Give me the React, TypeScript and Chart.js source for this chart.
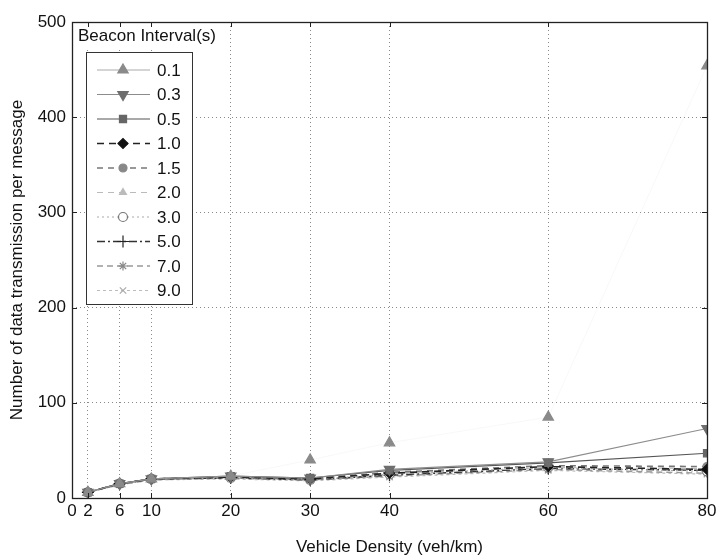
import React, { useEffect, useRef } from "react";
import { Chart, registerables } from "chart.js";
import { drawPoint } from "chart.js/helpers";

Chart.register(...registerables);

// ---- data ----
const densities = [2, 6, 10, 20, 30, 40, 60, 80];
const xTickValues = [0, 2, 6, 10, 20, 30, 40, 60, 80];
const yTickValues = [0, 100, 200, 300, 400, 500];
const intervals = ["0.1", "0.3", "0.5", "1.0", "1.5", "2.0", "3.0", "5.0", "7.0", "9.0"];

const bi01 = [6, 15, 20, 23, 40, 58, 85, 454];
const bi03 = [6, 15, 20, 23, 21, 30, 38, 73];
const bi05 = [6, 15, 20, 23, 21, 29, 37, 47];
const bi10 = [6, 15, 20, 22, 20, 26, 33, 30];
const bi15 = [6, 15, 20, 22, 20, 27, 34, 33];
const bi20 = [6, 15, 20, 22, 20, 26, 32, 31];
const bi30 = [6, 15, 20, 21, 19, 25, 32, 28];
const bi50 = [6, 15, 20, 21, 19, 24, 31, 29];
const bi70 = [6, 14, 19, 21, 19, 23, 30, 26];
const bi90 = [6, 14, 19, 20, 18, 22, 29, 25];

const seriesValues = [bi01, bi03, bi05, bi10, bi15, bi20, bi30, bi50, bi70, bi90];

// ---- styles ----
type Sty = {
  line: string;
  lw: number;
  dash: number[];
  pt: string;
  rot: number;
  r: number;
  fill: string;
  stroke: string;
};
const styles: Sty[] = [
  { line: "rgba(200,200,200,0.12)", lw: 1, dash: [], pt: "triangle", rot: 0, r: 6, fill: "#8a8a8a", stroke: "#8a8a8a" },
  { line: "#8c8c8c", lw: 1.2, dash: [], pt: "triangle", rot: 180, r: 6, fill: "#6e6e6e", stroke: "#6e6e6e" },
  { line: "#555", lw: 1.2, dash: [], pt: "rect", rot: 0, r: 5, fill: "#666", stroke: "#666" },
  { line: "#222", lw: 1.6, dash: [7, 5], pt: "rectRot", rot: 0, r: 5, fill: "#111", stroke: "#111" },
  { line: "#777", lw: 1.6, dash: [6, 5], pt: "circle", rot: 0, r: 4, fill: "#888", stroke: "#888" },
  { line: "#bbb", lw: 1.2, dash: [6, 5], pt: "triangle", rot: 0, r: 4, fill: "#bbb", stroke: "#bbb" },
  { line: "#aaa", lw: 1.2, dash: [2, 3], pt: "circle", rot: 0, r: 4.5, fill: "#fff", stroke: "#777" },
  { line: "#333", lw: 1.4, dash: [8, 3, 2, 3], pt: "cross", rot: 0, r: 6, fill: "#222", stroke: "#222" },
  { line: "#999", lw: 1.4, dash: [6, 4], pt: "star", rot: 0, r: 4.5, fill: "#888", stroke: "#888" },
  { line: "#bbb", lw: 1.2, dash: [3, 3], pt: "crossRot", rot: 0, r: 4.5, fill: "#aaa", stroke: "#aaa" },
];

const FONT = "'Liberation Sans', Arial, Helvetica, sans-serif";
const FS = 17;

const framePlugin = {
  id: "frameAndLegend",
  afterDatasetsDraw(chart: any) {
    const { ctx, chartArea } = chart;
    const { left, right, top, bottom } = chartArea;
    const xs = chart.scales.x;
    const ys = chart.scales.y;
    ctx.save();

    // legend title background + text
    ctx.fillStyle = "#fff";
    ctx.fillRect(left + 2, top + 3, 152, 22);
    ctx.fillStyle = "#111";
    ctx.font = `${FS}px ${FONT}`;
    ctx.textBaseline = "middle";
    ctx.textAlign = "left";
    ctx.fillText("Beacon Interval(s)", left + 6, top + 14);

    // legend box
    const bx = 86, by = 52, bw = 106, bh = 252;
    ctx.fillStyle = "#fff";
    ctx.fillRect(bx, by, bw, bh);
    ctx.strokeStyle = "#333";
    ctx.lineWidth = 1;
    ctx.setLineDash([]);
    ctx.strokeRect(bx + 0.5, by + 0.5, bw, bh);

    intervals.forEach((lab, i) => {
      const s = styles[i];
      const y = 70 + i * 24.5;
      ctx.save();
      ctx.strokeStyle = i === 0 ? "#aaa" : s.line;
      ctx.lineWidth = s.lw;
      ctx.setLineDash(s.dash);
      ctx.beginPath();
      ctx.moveTo(97, y);
      ctx.lineTo(150, y);
      ctx.stroke();
      ctx.restore();
      ctx.save();
      ctx.fillStyle = s.fill;
      ctx.strokeStyle = s.stroke;
      ctx.lineWidth = 1.2;
      ctx.setLineDash([]);
      drawPoint(ctx, { pointStyle: s.pt, radius: s.r, rotation: s.rot, borderWidth: 1.2 }, 123, y);
      ctx.restore();
      ctx.fillStyle = "#111";
      ctx.font = `${FS}px ${FONT}`;
      ctx.textAlign = "left";
      ctx.textBaseline = "middle";
      ctx.fillText(lab, 157, y + 1);
    });

    // inward tick marks
    ctx.strokeStyle = "#222";
    ctx.lineWidth = 1;
    ctx.setLineDash([]);
    const tl = 5;
    xTickValues.forEach((v) => {
      const px = Math.round(xs.getPixelForValue(v)) + 0.5;
      ctx.beginPath();
      ctx.moveTo(px, bottom);
      ctx.lineTo(px, bottom - tl);
      ctx.moveTo(px, top);
      ctx.lineTo(px, top + tl);
      ctx.stroke();
    });
    yTickValues.forEach((v) => {
      const py = Math.round(ys.getPixelForValue(v)) + 0.5;
      ctx.beginPath();
      ctx.moveTo(left, py);
      ctx.lineTo(left + tl, py);
      ctx.moveTo(right, py);
      ctx.lineTo(right - tl, py);
      ctx.stroke();
    });

    // frame
    ctx.strokeStyle = "#222";
    ctx.lineWidth = 1.3;
    ctx.strokeRect(Math.round(left) + 0.5, Math.round(top) + 0.5, Math.round(right - left), Math.round(bottom - top));
    ctx.restore();
  },
};

export default function App() {
  const ref = useRef<HTMLCanvasElement>(null);

  useEffect(() => {
    if (!ref.current) return;
    const datasets = seriesValues.map((vals, i) => {
      const s = styles[i];
      return {
        label: intervals[i],
        data: densities.map((x, j) => ({ x, y: vals[j] })),
        borderColor: s.line,
        borderWidth: s.lw,
        borderDash: s.dash,
        backgroundColor: s.fill,
        pointStyle: s.pt as any,
        pointRotation: s.rot,
        pointRadius: s.r,
        pointBackgroundColor: s.fill,
        pointBorderColor: s.stroke,
        pointBorderWidth: 1.2,
        tension: 0,
        fill: false,
      };
    });

    const chart = new Chart(ref.current, {
      type: "line",
      data: { datasets },
      options: {
        animation: false,
        responsive: false,
        devicePixelRatio: 1,
        layout: { padding: { top: 22, right: 13, left: 0, bottom: 0 } },
        plugins: {
          legend: { display: false },
          tooltip: { enabled: false },
        },
        scales: {
          x: {
            type: "linear",
            min: 0,
            max: 80,
            afterBuildTicks: (s: any) => {
              s.ticks = xTickValues.map((v) => ({ value: v }));
            },
            afterFit: (s: any) => {
              s.height = 62;
            },
            ticks: {
              autoSkip: false,
              maxRotation: 0,
              padding: 3,
              color: "#111",
              font: { family: FONT, size: FS },
            },
            grid: { color: "#8a8a8a", lineWidth: 1, drawTicks: false },
            border: { display: false, dash: [1, 3] },
            title: {
              display: true,
              text: "Vehicle Density (veh/km)",
              color: "#111",
              font: { family: FONT, size: FS },
              padding: { top: 0, bottom: 2 },
            },
          },
          y: {
            type: "linear",
            min: 0,
            max: 500,
            afterBuildTicks: (s: any) => {
              s.ticks = yTickValues.map((v) => ({ value: v }));
            },
            afterFit: (s: any) => {
              s.width = 72;
            },
            ticks: {
              padding: 6,
              color: "#111",
              font: { family: FONT, size: FS },
            },
            grid: { color: "#8a8a8a", lineWidth: 1, drawTicks: false },
            border: { display: false, dash: [1, 3] },
            title: {
              display: true,
              text: "Number of data transmission per message",
              color: "#111",
              font: { family: FONT, size: FS },
              padding: { top: 7, bottom: 0 },
            },
          },
        },
      },
      plugins: [framePlugin],
    });
    return () => chart.destroy();
  }, []);

  return (
    <div style={{ position: "fixed", left: 0, top: 0, width: 720, height: 560, background: "#fff" }}>
      <canvas ref={ref} width={720} height={560} style={{ width: 720, height: 560, display: "block" }} />
    </div>
  );
}
